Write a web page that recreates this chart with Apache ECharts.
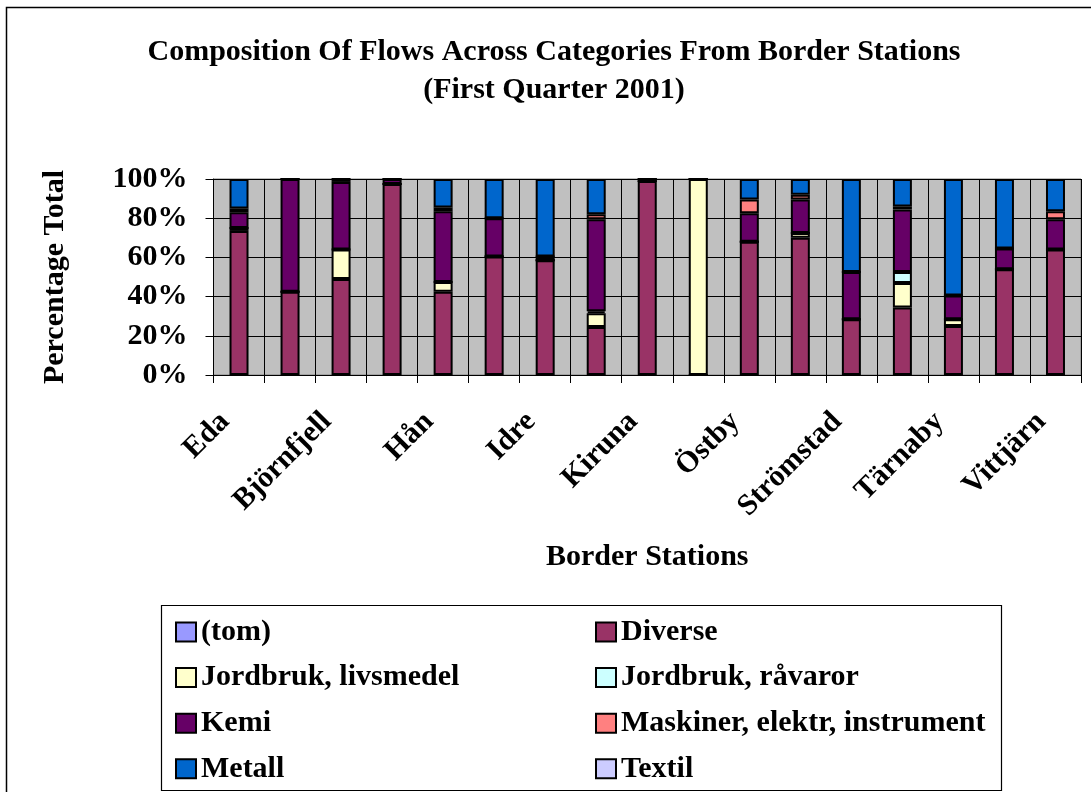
<!DOCTYPE html>
<html>
<head>
<meta charset="utf-8">
<script src="https://cdn.jsdelivr.net/npm/echarts@6/dist/echarts.min.js"></script>
<style>
  html, body { margin: 0; padding: 0; background: #fff; }
  #chart { width: 1091px; height: 792px; }
</style>
</head>
<body>
<div id="chart"></div>
<script>
// Border stations (every second name is printed on the axis)
const stations = [
  'Eda', 'Almdalen', 'Björnfjell', 'Graddis', 'Hån', 'Helligskogen',
  'Idre', 'Junkerdal', 'Kiruna', 'Morokulien', 'Östby', 'Riksgränsen',
  'Strömstad', 'Svinesund', 'Tärnaby', 'Umbukta', 'Vittjärn'
];

// Share of each goods category per station, in percent
const tom          = [];
const diverse      = [73.5, 42.5, 49, 97.5, 42.5, 60.5, 58.5, 24.5, 99, 0, 68, 70, 28.5, 34.5, 25, 54, 64];
const jordLivs     = [1.5, 0, 15, 0, 5, 0, 0, 7, 0, 100, 0, 2.5, 0, 12.5, 3.5, 0, 0];
const jordRavaror  = [0, 0, 0, 0, 0, 0, 0, 1, 0, 0, 0, 0, 0, 5.5, 0, 0, 0];
const kemi         = [8, 57.5, 34.5, 2.5, 36, 19.5, 2, 47, 1, 0, 14.5, 17, 24, 32, 12, 10.5, 15.5];
const maskiner     = [2, 0, 1.5, 0, 2, 0, 0, 2.5, 0, 0, 7, 2.5, 0, 1.5, 0, 0, 4];
const metall       = [15, 0, 0, 0, 14.5, 20, 39.5, 18, 0, 0, 10.5, 8, 47.5, 14, 59.5, 35.5, 16.5];
const textil       = [];

const yTicks = [0, 20, 40, 60, 80, 100];

const seriesDefs = [
  { name: '(tom)', data: tom, color: '#9999FF' },
  { name: 'Diverse', data: diverse, color: '#993366' },
  { name: 'Jordbruk, livsmedel', data: jordLivs, color: '#FFFFCC' },
  { name: 'Jordbruk, råvaror', data: jordRavaror, color: '#CCFFFF' },
  { name: 'Kemi', data: kemi, color: '#660066' },
  { name: 'Maskiner, elektr, instrument', data: maskiner, color: '#FF8080' },
  { name: 'Metall', data: metall, color: '#0066CC' },
  { name: 'Textil', data: textil, color: '#CCCCFF' }
];

const FONT = 'Liberation Serif';
const FS = 30;
const chart = echarts.init(document.getElementById('chart'));

const legendCommon = {
  orient: 'vertical',
  icon: 'rect',
  itemWidth: 20,
  itemHeight: 19,
  itemGap: 15.6,
  height: 190,
  padding: 0,
  textStyle: { fontFamily: FONT, fontWeight: 'bold', fontSize: FS, color: '#000', lineHeight: 30 },
  selectedMode: false,
  itemStyle: { borderColor: '#000', borderWidth: 2 }
};

chart.setOption({
  animation: false,
  backgroundColor: '#fff',
  textStyle: { fontFamily: FONT },
  title: {
    text: 'Composition Of Flows Across Categories From Border Stations\n(First Quarter 2001)',
    left: 549,
    top: 28,
    textAlign: 'center',
    textStyle: { fontFamily: FONT, fontWeight: 'bold', fontSize: FS, lineHeight: 38, color: '#000' }
  },
  graphic: [
    { type: 'rect', shape: { x: 6.5, y: 7.5, width: 1100, height: 800 },
      style: { fill: 'none', stroke: '#000', lineWidth: 1.5 }, silent: true },
    { type: 'rect', shape: { x: 161.5, y: 605.5, width: 840, height: 185 },
      style: { fill: 'none', stroke: '#000', lineWidth: 1.2 }, silent: true }
  ],
  legend: [
    Object.assign({ left: 175, top: 617, data: ['(tom)', 'Jordbruk, livsmedel', 'Kemi', 'Metall'] }, legendCommon),
    Object.assign({ left: 595, top: 617, data: ['Diverse', 'Jordbruk, råvaror', 'Maskiner, elektr, instrument', 'Textil'] }, legendCommon)
  ],
  grid: {
    left: 213.5, right: 10, top: 179, bottom: 417,
    show: true, backgroundColor: '#C0C0C0', borderColor: '#808080', borderWidth: 1
  },
  xAxis: {
    type: 'category',
    data: stations,
    name: 'Border Stations',
    nameLocation: 'middle',
    nameGap: 167,
    nameTextStyle: { fontFamily: FONT, fontWeight: 'bold', fontSize: FS, color: '#000' },
    axisLine: { lineStyle: { color: '#000', width: 1 } },
    axisTick: { show: true, interval: 0, length: 8, lineStyle: { color: '#000' } },
    axisLabel: {
      interval: 1, rotate: 45, margin: 28,
      padding: [0, 20, 0, 0],
      fontFamily: FONT, fontWeight: 'bold', fontSize: FS, color: '#000'
    },
    splitLine: { show: true, interval: 0, lineStyle: { color: '#000', width: 1 } }
  },
  yAxis: {
    type: 'value',
    min: yTicks[0],
    max: yTicks[yTicks.length - 1],
    interval: yTicks[1] - yTicks[0],
    name: 'Percentage Total',
    nameLocation: 'middle',
    nameGap: 143,
    nameTextStyle: { fontFamily: FONT, fontWeight: 'bold', fontSize: FS, color: '#000' },
    axisLine: { show: true, lineStyle: { color: '#000', width: 1 } },
    axisTick: { show: true, length: 8, lineStyle: { color: '#000' } },
    axisLabel: {
      formatter: '{value}%', margin: 26,
      fontFamily: FONT, fontWeight: 'bold', fontSize: FS, color: '#000'
    },
    splitLine: { show: true, lineStyle: { color: '#000', width: 1 } }
  },
  series: seriesDefs.map(s => ({
    name: s.name,
    type: 'bar',
    stack: 'total',
    data: s.data,
    barWidth: 19,
    itemStyle: { color: s.color, borderColor: '#000', borderWidth: 2 },
    emphasis: { disabled: true }
  }))
});
</script>
</body>
</html>
